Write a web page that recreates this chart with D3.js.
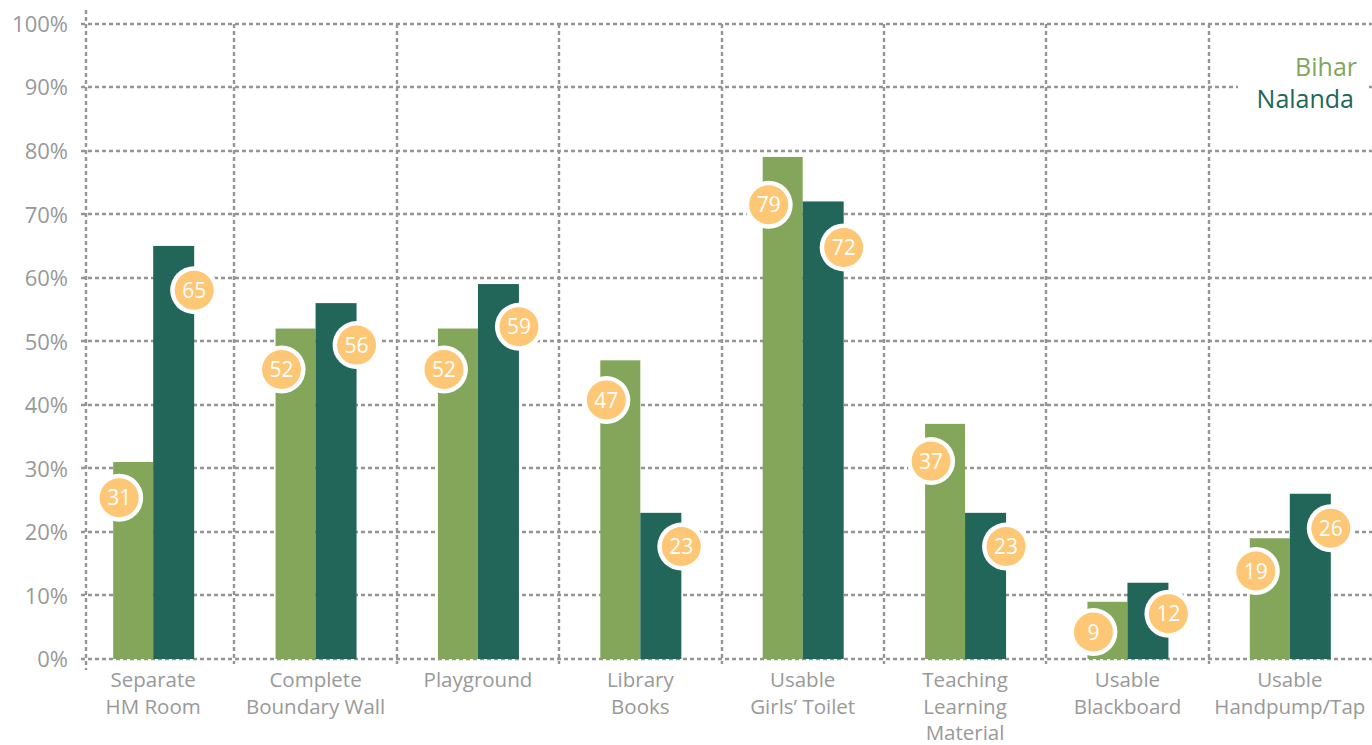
<!DOCTYPE html>
<html><head><meta charset="utf-8">
<script src="https://cdn.jsdelivr.net/npm/d3@7"></script>
<style>
html,body{margin:0;padding:0;background:#fff;}
svg{display:block;font-family:"Open Sans","Noto Sans",sans-serif;}
</style></head>
<body>
<svg id="chart" width="1372" height="745"></svg>
<script>
const categories = [
  ["Separate","HM Room"],
  ["Complete","Boundary Wall"],
  ["Playground"],
  ["Library","Books"],
  ["Usable","Girls\u2019 Toilet"],
  ["Teaching","Learning","Material"],
  ["Usable","Blackboard"],
  ["Usable","Handpump/Tap"]
];
const bihar   = [31, 52, 52, 47, 79, 37, 9, 19];
const nalanda = [65, 56, 59, 23, 72, 23, 12, 26];
const yTicks  = [0,10,20,30,40,50,60,70,80,90,100];
const seriesNames = ["Bihar","Nalanda"];

const colBihar = "#83a65b", colNalanda = "#22665a", colBubble = "#fec776", colGrid = "#959595", colText = "#999999";

const svg = d3.select("#chart");
const keys = categories.map(c => c.join(" "));
const x = d3.scaleBand().domain(keys).range([72, 1371]);
const y = d3.scaleLinear().domain([0,100]).range([659, 23.5]);
const axisX = 86;
const dash = "4,3";

// horizontal gridlines
const g = svg.append("g");
g.selectAll("line.h").data(yTicks).join("line")
  .attr("x1", 81).attr("x2", 1372)
  .attr("y1", d => Math.round(y(d))).attr("y2", d => Math.round(y(d)))
  .attr("stroke", colGrid).attr("stroke-width", 2.4).attr("stroke-dasharray", dash);
// vertical gridlines at band boundaries
g.selectAll("line.v").data(keys.slice(1)).join("line")
  .attr("x1", d => Math.round(x(d))).attr("x2", d => Math.round(x(d)))
  .attr("y1", Math.round(y(100))).attr("y2", 664)
  .attr("stroke", colGrid).attr("stroke-width", 2.4).attr("stroke-dasharray", dash);
// y axis line
g.append("line").attr("x1", axisX).attr("x2", axisX).attr("y1", 10).attr("y2", 670)
  .attr("stroke", colGrid).attr("stroke-width", 2.4).attr("stroke-dasharray", dash);

// y tick labels
const yAxis = d3.axisLeft(y).tickValues(yTicks).tickFormat(d => d + "%").tickSize(0).tickPadding(0);
const ya = svg.append("g").attr("transform", "translate(68,0)").call(yAxis);
ya.select(".domain").remove();
ya.selectAll("text").attr("fill", colText).attr("font-size", 22).attr("font-family", "'Open Sans','Noto Sans',sans-serif").attr("dy", "0.36em");

// bars
const bw = 40;
const center = k => x(k) + x.bandwidth()/2;
svg.append("g").selectAll("rect").data(keys).join("rect")
  .attr("x", k => center(k) - bw).attr("width", bw)
  .attr("y", (k,i) => y(bihar[i])).attr("height", (k,i) => y(0) - y(bihar[i]))
  .attr("fill", colBihar);
svg.append("g").selectAll("rect").data(keys).join("rect")
  .attr("x", k => center(k)).attr("width", bw + 1)
  .attr("y", (k,i) => y(nalanda[i])).attr("height", (k,i) => y(0) - y(nalanda[i]))
  .attr("fill", colNalanda);

// bubbles
function bubbles(vals, cxFn) {
  const gg = svg.append("g").selectAll("g").data(keys).join("g")
    .attr("transform", (k,i) => `translate(${cxFn(k)},${y(vals[i]) + 28 + 0.25*vals[i]})`);
  gg.append("circle").attr("r", 24).attr("fill", "#fff");
  gg.append("circle").attr("r", 19.5).attr("fill", colBubble);
  gg.append("text").text((k,i) => vals[i]).attr("text-anchor", "middle").attr("dy", "0.36em")
    .attr("fill", "#fff").attr("font-size", 21);
}
bubbles(bihar, k => center(k) - bw + 6);
bubbles(nalanda, k => center(k) + bw + 1);

// category labels
const cl = svg.append("g").selectAll("text").data(categories).join("text")
  .attr("text-anchor", "middle").attr("fill", colText).attr("font-size", 20.5)
  .attr("transform", (c,i) => `translate(${center(keys[i])},687)`);
cl.selectAll("tspan").data(c => c).join("tspan")
  .attr("x", 0).attr("dy", (d,j) => j === 0 ? 0 : 26.5).text(d => d);

// legend
svg.append("rect").attr("x", 1238).attr("y", 50).attr("width", 130).attr("height", 72).attr("fill", "#fff");
const legCol = [colBihar, colNalanda];
svg.append("g").selectAll("text").data(seriesNames).join("text")
  .attr("x", (d,i) => i === 0 ? 1357 : 1354).attr("y", (d,i) => i === 0 ? 76 : 108)
  .attr("text-anchor", "end").attr("font-size", 25).attr("fill", (d,i) => legCol[i]).text(d => d);
</script>
</body></html>
